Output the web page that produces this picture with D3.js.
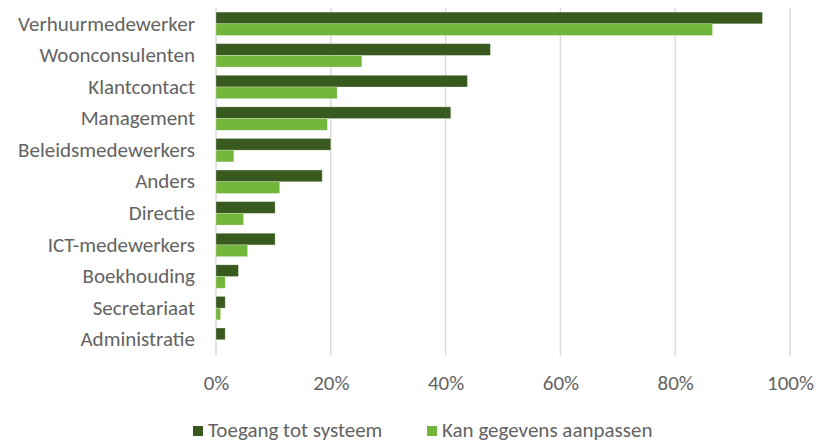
<!DOCTYPE html>
<html>
<head>
<meta charset="utf-8">
<script src="https://cdn.jsdelivr.net/npm/d3@7"></script>
<style>
  html, body { margin: 0; padding: 0; background: #fff; }
  svg { display: block; }
  text { font-family: Carlito, Calibri, Lato, "Open Sans", sans-serif; fill: #636363; }
</style>
</head>
<body>
<svg id="chart" width="816" height="443"></svg>
<script>
const categories = ["Verhuurmedewerker", "Woonconsulenten", "Klantcontact", "Management",
  "Beleidsmedewerkers", "Anders", "Directie", "ICT-medewerkers", "Boekhouding",
  "Secretariaat", "Administratie"];
const seriesNames = ["Toegang tot systeem", "Kan gegevens aanpassen"];
const toegang = [95.2, 47.8, 43.8, 40.9, 20.0, 18.5, 10.3, 10.3, 3.9, 1.6, 1.6];
const aanpassen = [86.5, 25.4, 21.1, 19.4, 3.1, 11.1, 4.8, 5.5, 1.6, 0.8, 0];
const xTicks = [0, 20, 40, 60, 80, 100];
const colors = ["#385A1E", "#72B53B"];

const svg = d3.select("#chart");
const fontSize = 21;
const textColor = "#636363";

const x = d3.scaleLinear().domain([0, 100]).range([216, 790]);
const y = d3.scaleBand().domain(categories).range([8, 355.5]).paddingInner(0.26).paddingOuter(0.13);
const ySub = d3.scaleBand().domain(seriesNames).range([0, y.bandwidth()]);

// gridlines
svg.append("g").selectAll("line").data(xTicks).join("line")
  .attr("x1", d => x(d)).attr("x2", d => x(d))
  .attr("y1", 8).attr("y2", 355.5)
  .attr("stroke", "#d9d9d9").attr("stroke-width", 1.4);

// bars
const series = [toegang, aanpassen];
series.forEach((vals, si) => {
  svg.append("g").selectAll("rect").data(categories).join("rect")
    .attr("x", x(0))
    .attr("y", c => y(c) + ySub(seriesNames[si]))
    .attr("width", (c, i) => Math.max(0, x(vals[i]) - x(0)))
    .attr("height", ySub.bandwidth())
    .attr("fill", colors[si])
    .attr("stroke", "#ffffff").attr("stroke-opacity", 0.35).attr("stroke-width", 0.75);
});

// category labels
const yAxis = d3.axisLeft(y).tickSize(0).tickPadding(0);
const gy = svg.append("g").attr("transform", "translate(195,0)").call(yAxis);
gy.select(".domain").remove();
gy.selectAll("text").attr("font-size", fontSize).attr("fill", textColor)
  .style("font-family", "Carlito, Calibri, Lato, sans-serif").attr("dy", "0.32em");

// x tick labels
const xAxis = d3.axisBottom(x).tickValues(xTicks).tickFormat(d => d + "%").tickSize(0).tickPadding(0);
const gx = svg.append("g").attr("transform", "translate(0,390)").call(xAxis);
gx.select(".domain").remove();
gx.selectAll("text").attr("font-size", fontSize).attr("fill", textColor)
  .style("font-family", "Carlito, Calibri, Lato, sans-serif").attr("dy", "0");

// legend
const legendItems = [
  { name: seriesNames[0], color: colors[0], x: 193 },
  { name: seriesNames[1], color: colors[1], x: 427 }
];
const lg = svg.append("g").selectAll("g").data(legendItems).join("g")
  .attr("transform", d => `translate(${d.x},0)`);
lg.append("rect").attr("x", 0).attr("y", 426).attr("width", 10).attr("height", 10).attr("fill", d => d.color);
lg.append("text").attr("x", 15).attr("y", 436.5).attr("font-size", fontSize).attr("fill", textColor).text(d => d.name);
</script>
</body>
</html>
